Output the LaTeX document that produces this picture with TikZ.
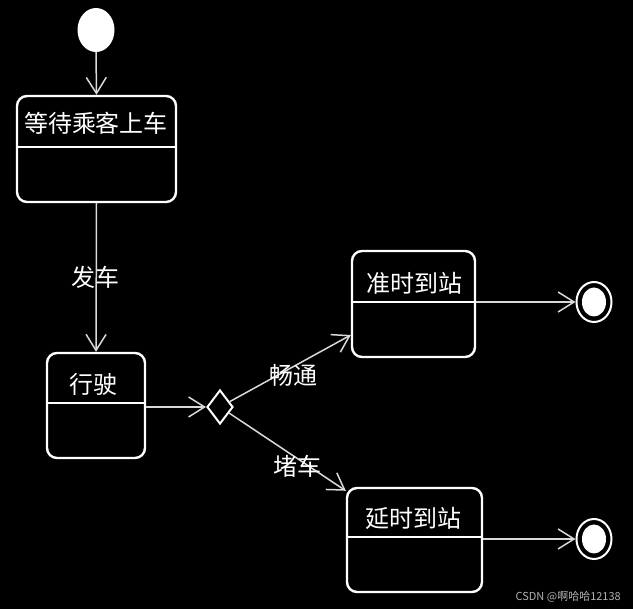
\documentclass[tikz,border=0pt]{standalone}
\usepackage{fontspec}
\newfontfamily\cjk{Noto Sans CJK SC}
\usetikzlibrary{arrows.meta,shapes.geometric}
\tikzset{
  state/.style={draw=white, line width=2.4pt, rounded corners=10pt, fill=black, inner sep=0pt},
  divider/.style={draw=white, line width=2pt},
  lbl/.style={text=white, font=\cjk\fontsize{24}{28}\selectfont, inner sep=0pt},
  conn/.style={draw=white!85!black, line width=1.5pt, -{Straight Barb[length=16pt,width=20pt,line width=1.5pt]}},
}
\begin{document}
\begin{tikzpicture}[x=1pt,y=-1pt]
\fill[black] (0,0) rectangle (633,609);
\useasboundingbox (0,0) rectangle (633,609);

% initial state
\node[ellipse, fill=white, minimum width=37pt, minimum height=44pt, inner sep=0pt] (init) at (96,30) {};

% states
\node[state, minimum width=159pt, minimum height=106pt] (b1) at (96.5,149) {};
\draw[divider] (17,147) coordinate (d1a) -- (176,147) coordinate (d1b);
\node[lbl] (t1) at (96,123) {等待乘客上车};

\node[state, minimum width=98pt, minimum height=105pt] (b2) at (96,405.5) {};
\draw[divider] (47,403) coordinate (d2a) -- (145,403) coordinate (d2b);
\node[lbl] (t2) at (94,384) {行驶};

\node[state, minimum width=123pt, minimum height=106pt] (b3) at (413.5,304) {};
\draw[divider] (352,302) coordinate (d3a) -- (475,302) coordinate (d3b);
\node[lbl] (t3) at (414,283) {准时到站};

\node[state, minimum width=135pt, minimum height=104pt] (b4) at (414.5,540) {};
\draw[divider] (347,537) coordinate (d4a) -- (482,537) coordinate (d4b);
\node[lbl] (t4) at (413,518) {延时到站};

% decision
\node[diamond, draw=white, line width=2pt, fill=black, minimum width=26pt, minimum height=34pt, inner sep=0pt, aspect=0.76] (dec) at (220,407) {};

% final states
\node[ellipse, draw=white, line width=2pt, minimum width=35pt, minimum height=40pt, inner sep=0pt] (f1) at (594,302) {};
\node[ellipse, fill=white, minimum width=24pt, minimum height=29pt, inner sep=0pt] (f1i) at (f1.center) {};
\node[ellipse, draw=white, line width=2pt, minimum width=35pt, minimum height=40pt, inner sep=0pt] (f2) at (594,539) {};
\node[ellipse, fill=white, minimum width=24pt, minimum height=29pt, inner sep=0pt] (f2i) at (f2.center) {};

% connectors
\draw[conn] (init.south) -- (b1.north);
\draw[conn] (b1.south) -- (b2.north);
\draw[conn] (b2.east |- dec.west) -- (dec.west);
\draw[conn] (dec) -- ([yshift=-31pt]b3.west);
\draw[conn] (dec) -- ([yshift=-4pt]b4.north west);
\draw[conn] (b3.east |- f1.west) -- (f1.west);
\draw[conn] (b4.east |- f2.west) -- (f2.west);

% labels
\node[lbl] (l1) at (95,277) {发车};
\node[lbl] (l2) at (293,375) {畅通};
\node[lbl] (l3) at (297,466) {堵车};

% watermark
\node[text=white!70!black, font=\cjk\fontsize{11}{12}\selectfont, inner sep=0pt, anchor=east] (wm) at (621,597) {CSDN @啊哈哈12138};
\end{tikzpicture}
\end{document}
